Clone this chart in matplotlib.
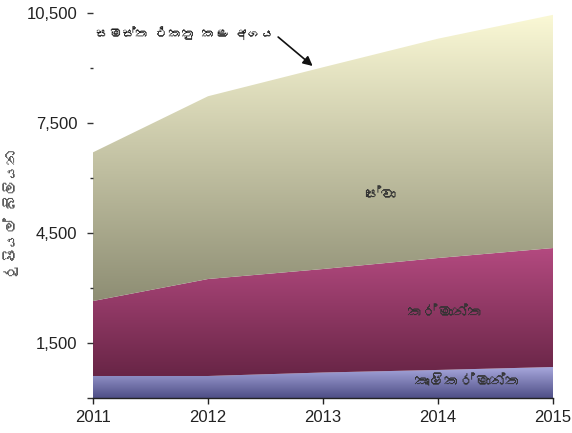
import numpy as np
import matplotlib
matplotlib.use("Agg")
import matplotlib.pyplot as plt
from matplotlib import font_manager
from matplotlib.colors import LinearSegmentedColormap
from matplotlib.ft2font import FT2Font

# ---- data ----
years = [2011, 2012, 2013, 2014, 2015]
agriculture = [600, 600, 695, 765, 845]
industry = [2045, 2645, 2823, 3053, 3245]
services = [4055, 4985, 5502, 5982, 6360]
ytick_vals = [0, 1500, 4500, 7500, 10500]
ytick_labels = ["", "1,500", "4,500", "7,500", "10,500"]
yminor_vals = [3000, 6000, 9000]
ylabel = "රුපියල් බිලියන"
total_label = "සමස්ත එකතු කළ අගය"
band_labels = ["කෘෂිකර්මාන්ත", "කර්මාන්ත", "සේවා"]

# ---- fonts: find something with Sinhala glyphs if available ----
sin_family = None
for fe in font_manager.fontManager.ttflist:
    try:
        f = FT2Font(fe.fname)
        if 0x0DC3 in f.get_charmap():
            sin_family = fe.name
            break
    except Exception:
        pass
latin = "Liberation Sans"
fam = [sin_family, latin, "DejaVu Sans"] if sin_family else [latin, "DejaVu Sans"]
plt.rcParams["font.family"] = [latin, "DejaVu Sans"]

fig = plt.figure(figsize=(5.72, 4.33), dpi=100)
ax = fig.add_axes([93 / 572, 35 / 433, 460 / 572, 385 / 433])

x = np.array(years, dtype=float)
a = np.array(agriculture, dtype=float)
m = a + np.array(industry, dtype=float)
t = m + np.array(services, dtype=float)

def grad_band(lower, upper, c_top, c_bot, y_top, y_bot, z):
    poly = ax.fill_between(x, lower, upper, facecolor="none", edgecolor="none", zorder=z)
    cmap = LinearSegmentedColormap.from_list("g", [c_bot, c_top])
    img = np.linspace(0, 1, 256).reshape(-1, 1)
    im = ax.imshow(img, cmap=cmap, origin="lower", aspect="auto",
                   extent=[x[0], x[-1], y_bot, y_top], zorder=z, interpolation="bilinear")
    path = poly.get_paths()[0]
    im.set_clip_path(path, transform=ax.transData)

grad_band(np.zeros_like(a), a, "#aaaadf", "#4e4e86", 850, 0, 1)
grad_band(a, m, "#b44a80", "#682546", 4100, 600, 1)
grad_band(m, t, "#fbf9d6", "#8d8d73", 10500, 2600, 1)

ax.set_xlim(2011, 2015)
ax.set_ylim(0, 10500)

for s in ["left", "top", "right"]:
    ax.spines[s].set_visible(False)
ax.spines["bottom"].set_color("#222222")
ax.spines["bottom"].set_linewidth(1.0)
ax.spines["bottom"].set_zorder(5)

ax.set_xticks(years)
ax.set_xticklabels([str(y) for y in years])
ax.set_yticks(ytick_vals)
ax.set_yticklabels(ytick_labels)
ax.set_yticks(yminor_vals, minor=True)
ax.tick_params(axis="x", direction="out", length=4, width=1, color="#222222",
               labelsize=12, labelcolor="#222222", pad=5)
ax.tick_params(axis="y", which="major", direction="out", length=4.3, width=1,
               color="#333333", labelsize=12, labelcolor="#222222", pad=7)
ax.tick_params(axis="y", which="minor", direction="out", length=2.5, width=1,
               color="#333333")

ax.set_ylabel(ylabel, fontsize=11, color="#555555", family=fam)
ax.yaxis.set_label_coords(-0.16, 0.48)

ax.text(2014.26, 436, band_labels[0], fontsize=11, color="#333333",
        family=fam, ha="center", va="center", zorder=6)
ax.text(2014.06, 2318, band_labels[1], fontsize=11, color="#333333",
        family=fam, ha="center", va="center", zorder=6)
ax.text(2013.5, 5536, band_labels[2], fontsize=11, color="#333333",
        family=fam, ha="center", va="center", zorder=6)

ax.text(2011.8, 9955, total_label, fontsize=9.5, color="#222222", family=fam,
        ha="center", va="center", zorder=6)
ax.annotate("", xy=(2012.91, 9055), xytext=(2012.61, 9845),
            arrowprops=dict(arrowstyle="-|>", color="#111111", lw=1.2,
                            mutation_scale=14, shrinkA=0, shrinkB=0),
            zorder=6)

fig.savefig("out.png", dpi=100)
